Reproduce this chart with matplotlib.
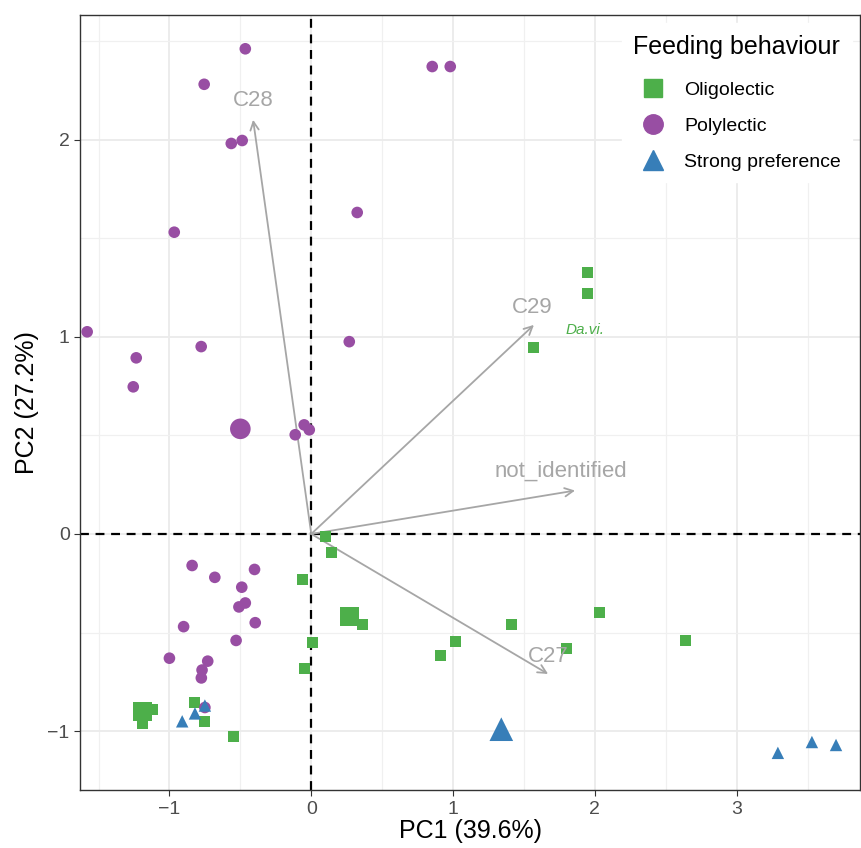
import numpy as np
import matplotlib.pyplot as plt
from matplotlib.lines import Line2D

plt.rcParams['font.family'] = ['Liberation Sans', 'DejaVu Sans']

# scores per feeding group (PC1, PC2), big = group centroid
olig_x = [-1.19, -1.12, -1.19, -0.82, -0.75, -0.55, -0.06, 0.01, -0.05, 0.27, 0.36, 0.14, 0.10,
          0.91, 1.02, 1.41, 1.80, 2.03, 2.64, 1.95, 1.95, 1.57]
olig_y = [-0.90, -0.89, -0.96, -0.855, -0.95, -1.025, -0.23, -0.55, -0.68, -0.42, -0.46, -0.095, -0.015,
          -0.615, -0.545, -0.46, -0.58, -0.40, -0.54, 1.325, 1.22, 0.945]
olig_big = [1, 0, 0, 0, 0, 0, 0, 0, 0, 1, 0, 0, 0, 0, 0, 0, 0, 0, 0, 0, 0, 0]

poly_x = [-0.465, -0.755, 0.853, 0.98, -0.564, -0.487, 0.324, -0.966, -1.58, -1.234, -1.255, -0.776,
          0.268, -0.50, -0.05, -0.113, -0.014,
          -0.84, -0.68, -0.40, -0.49, -0.465, -0.51, -0.395, -0.90, -0.53, -1.0, -0.73, -0.77, -0.775, -0.75]
poly_y = [2.46, 2.28, 2.37, 2.37, 1.98, 1.995, 1.63, 1.53, 1.025, 0.893, 0.746, 0.95,
          0.975, 0.533, 0.553, 0.503, 0.528,
          -0.16, -0.22, -0.18, -0.27, -0.35, -0.37, -0.45, -0.47, -0.54, -0.63, -0.645, -0.69, -0.73, -0.88]
poly_big = [0] * 13 + [1] + [0] * 17

strong_x = [-0.91, -0.82, -0.75, 1.34, 3.29, 3.53, 3.70]
strong_y = [-0.95, -0.91, -0.87, -0.99, -1.11, -1.055, -1.07]
strong_big = [0, 0, 0, 1, 0, 0, 0]

# loadings
load_names = ['C28', 'C29', 'not_identified', 'C27']
load_x = [-0.41, 1.57, 1.86, 1.67]
load_y = [2.10, 1.06, 0.22, -0.71]
lab_x = [-0.41, 1.56, 1.76, 1.67]
lab_y = [2.20, 1.15, 0.32, -0.62]

groups = ['Oligolectic', 'Polylectic', 'Strong preference']
cols = ['#4DAF4A', '#984EA3', '#377EB8']
marks = ['s', 'o', '^']
small = [62, 70, 80]
large = [190, 220, 290]

fig = plt.figure(figsize=(8.61, 8.48), dpi=100)
ax = fig.add_axes([0.093, 0.068, 0.906, 0.914])

ax.set_xlim(-1.63, 3.87)
ax.set_ylim(-1.30, 2.63)
ax.set_xticks([-1, 0, 1, 2, 3])
ax.set_yticks([-1, 0, 1, 2])
ax.set_xticks(np.arange(-1.5, 4, 1), minor=True)
ax.set_yticks(np.arange(-0.5, 2.6, 1), minor=True)
ax.set_xticklabels(['\u22121', '0', '1', '2', '3'])
ax.set_yticklabels(['\u22121', '0', '1', '2'])
ax.grid(True, which='major', color='#EBEBEB', lw=1.3)
ax.grid(True, which='minor', color='#F0F0F0', lw=0.9)
ax.tick_params(which='minor', length=0)
ax.tick_params(which='major', length=4, color='#333333', labelsize=14, labelcolor='#4D4D4D')
ax.set_axisbelow(True)
for sp in ax.spines.values():
    sp.set_color('#333333')
    sp.set_linewidth(1.0)

ax.axvline(0, color='black', ls=(0, (4, 3)), lw=1.6, zorder=1)
ax.axhline(0, color='black', ls=(0, (4, 3)), lw=1.6, zorder=1)

data = [(olig_x, olig_y, olig_big), (poly_x, poly_y, poly_big), (strong_x, strong_y, strong_big)]
for (xs, ys, big), c, m, s0, s1 in zip(data, cols, marks, small, large):
    sz = [s1 if b else s0 for b in big]
    ax.scatter(xs, ys, s=sz, c=c, marker=m, linewidths=0, zorder=3)

for name, x, y, lx, ly in zip(load_names, load_x, load_y, lab_x, lab_y):
    ax.annotate('', xy=(x, y), xytext=(0, 0),
                arrowprops=dict(arrowstyle='->,head_length=0.6,head_width=0.3',
                                color='#A6A6A6', lw=1.3, shrinkA=0, shrinkB=0), zorder=2)
    ax.text(lx, ly, name, color='#A6A6A6', fontsize=16, ha='center', va='center', zorder=4)

ax.text(1.93, 1.035, 'Da.vi.', color='#4DAF4A', fontsize=11, style='italic', ha='center', va='center')

ax.set_xlabel('PC1 (39.6%)', fontsize=18, labelpad=1)
ax.set_ylabel('PC2 (27.2%)', fontsize=18, labelpad=6)

handles = [Line2D([], [], marker=m, color=c, ls='', markersize=ms)
           for m, c, ms in zip(marks, cols, [13, 14, 15])]
leg = ax.legend(handles, groups, title='Feeding behaviour', loc='upper right',
                bbox_to_anchor=(1.0, 1.0), fontsize=14, title_fontsize=18,
                frameon=True, fancybox=False, edgecolor='white', facecolor='white',
                framealpha=1, handletextpad=0.6, labelspacing=0.95, borderpad=0.6,
                borderaxespad=0.4)
leg._legend_box.align = 'left'
leg._legend_box.sep = 16

fig.savefig('out.png', dpi=100)
